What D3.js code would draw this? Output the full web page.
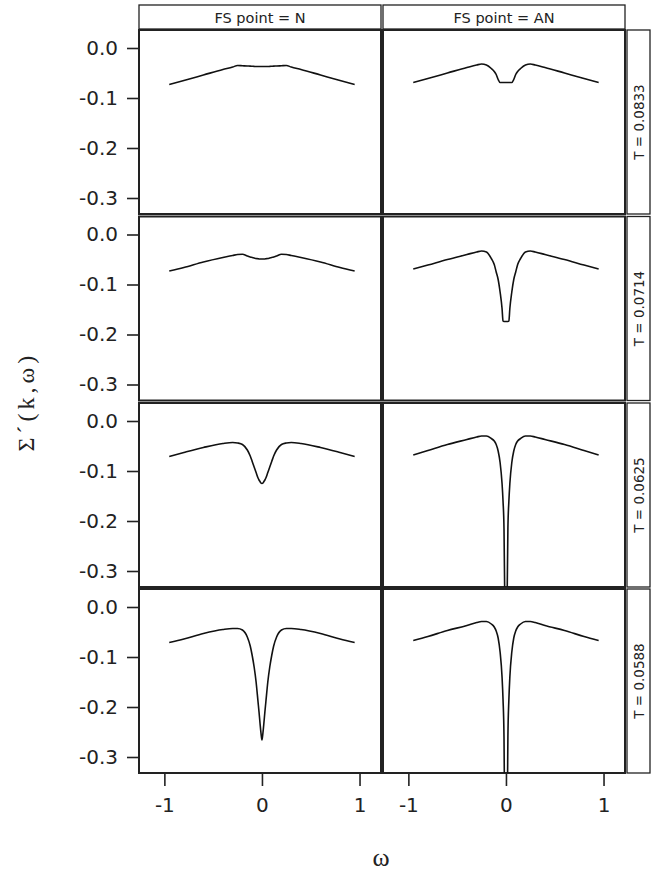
<!DOCTYPE html>
<html lang="en">
<head>
<meta charset="UTF-8">
<script src="https://d3js.org/d3.v7.min.js"></script>
<style>
  body { margin: 0; background: #fff; }
  svg { display: block; }
</style>
<title>Sigma prime panels</title>
</head>
<body>
<div id="chart"></div>
<script>
// frequency grid (omega) shared by all panels
const omega = [-0.95, -0.8, -0.6, -0.4, -0.3, -0.25, -0.2, -0.15, -0.12, -0.1, -0.08, -0.06, -0.04, -0.03, -0.02, -0.01,
  0, 0.01, 0.02, 0.03, 0.04, 0.06, 0.08, 0.1, 0.12, 0.15, 0.2, 0.25, 0.3, 0.4, 0.6, 0.8, 0.95];

const fsPoints = ["N", "AN"];
const temps = ["0.0833", "0.0714", "0.0625", "0.0588"];

// Sigma'(k, omega), one array per panel
const n0833 = [-0.073, -0.065, -0.054, -0.043, -0.038, -0.035, -0.0355, -0.036, -0.0362, -0.0365, -0.0368, -0.037, -0.037, -0.037, -0.037, -0.037,
  -0.037, -0.037, -0.037, -0.037, -0.037, -0.037, -0.0368, -0.0365, -0.0362, -0.036, -0.0355, -0.035, -0.038, -0.043, -0.054, -0.065, -0.073];
const an0833 = [-0.069, -0.061, -0.050, -0.039, -0.034, -0.032, -0.034, -0.041, -0.047, -0.053, -0.063, -0.069, -0.069, -0.069, -0.069, -0.069,
  -0.069, -0.069, -0.069, -0.069, -0.069, -0.069, -0.063, -0.053, -0.047, -0.041, -0.034, -0.032, -0.034, -0.039, -0.050, -0.061, -0.069];

const n0714 = [-0.073, -0.066, -0.055, -0.046, -0.042, -0.040, -0.0395, -0.043, -0.045, -0.046, -0.047, -0.048, -0.0485, -0.049, -0.049, -0.049,
  -0.049, -0.049, -0.049, -0.049, -0.0485, -0.048, -0.047, -0.046, -0.045, -0.043, -0.0395, -0.040, -0.042, -0.046, -0.055, -0.066, -0.073];
const an0714 = [-0.069, -0.061, -0.050, -0.040, -0.035, -0.033, -0.035, -0.048, -0.060, -0.075, -0.090, -0.115, -0.148, -0.173, -0.174, -0.174,
  -0.174, -0.174, -0.174, -0.173, -0.148, -0.115, -0.090, -0.075, -0.060, -0.048, -0.035, -0.033, -0.035, -0.040, -0.050, -0.061, -0.069];

const n0625 = [-0.071, -0.063, -0.053, -0.045, -0.043, -0.044, -0.047, -0.058, -0.070, -0.081, -0.092, -0.103, -0.114, -0.118, -0.121, -0.124,
  -0.125, -0.124, -0.121, -0.118, -0.114, -0.103, -0.092, -0.081, -0.070, -0.058, -0.047, -0.044, -0.043, -0.045, -0.053, -0.063, -0.071];
const an0625 = [-0.068, -0.059, -0.047, -0.037, -0.032, -0.030, -0.030, -0.035, -0.040, -0.047, -0.060, -0.083, -0.125, -0.160, -0.215, -0.40,
  -0.60, -0.40, -0.215, -0.160, -0.125, -0.083, -0.060, -0.047, -0.040, -0.035, -0.030, -0.030, -0.032, -0.037, -0.047, -0.059, -0.068];

const n0588 = [-0.071, -0.064, -0.053, -0.045, -0.043, -0.043, -0.046, -0.060, -0.078, -0.097, -0.120, -0.150, -0.190, -0.210, -0.232, -0.252,
  -0.266, -0.252, -0.232, -0.210, -0.190, -0.150, -0.120, -0.097, -0.078, -0.060, -0.046, -0.043, -0.043, -0.045, -0.053, -0.064, -0.071];
const an0588 = [-0.067, -0.059, -0.047, -0.037, -0.031, -0.029, -0.029, -0.034, -0.040, -0.048, -0.062, -0.090, -0.140, -0.185, -0.26, -0.50,
  -0.80, -0.50, -0.26, -0.185, -0.140, -0.090, -0.062, -0.048, -0.040, -0.034, -0.029, -0.029, -0.031, -0.037, -0.047, -0.059, -0.067];

const series = [[n0833, an0833], [n0714, an0714], [n0625, an0625], [n0588, an0588]];

const xTicks = [-1, 0, 1];
const yTicks = [0, -0.1, -0.2, -0.3];

// layout
const W = 657, H = 874;
const panelW = 242, panelH = 184;
const colX = [139, 383];
const rowY = [30, 216.5, 403, 589];
const stripTop = 5, stripH = 24;
const tStripX = 627, tStripW = 23;

const svg = d3.select("#chart").append("svg")
  .attr("width", W).attr("height", H);

const x = d3.scaleLinear([-1.26, 1.22], [0, panelW]);
const y = d3.scaleLinear([-0.332, 0.036], [panelH, 0]);

const line = d3.line()
  .x((d, i) => x(omega[i]))
  .y(d => y(d))
  .curve(d3.curveMonotoneX);

const defs = svg.append("defs");
defs.append("clipPath").attr("id", "panelclip")
  .append("rect").attr("width", panelW).attr("height", panelH);

const numFont = "DejaVu Sans, sans-serif";

// strips on top
fsPoints.forEach((fs, c) => {
  const g = svg.append("g").attr("transform", "translate(" + colX[c] + "," + stripTop + ")");
  g.append("rect").attr("width", panelW).attr("height", stripH)
    .attr("fill", "#fff").attr("stroke", "#222").attr("stroke-width", 1.3);
  g.append("text").attr("x", panelW / 2).attr("y", stripH / 2 + 5.5)
    .attr("text-anchor", "middle").attr("font-family", numFont).attr("font-size", 14.5)
    .attr("fill", "#222").text("FS point = " + fs);
});

temps.forEach((t, r) => {
  // right strip
  const s = svg.append("g").attr("transform", "translate(" + tStripX + "," + rowY[r] + ")");
  s.append("rect").attr("width", tStripW).attr("height", panelH)
    .attr("fill", "#fff").attr("stroke", "#222").attr("stroke-width", 1.3);
  s.append("text")
    .attr("transform", "translate(" + (tStripW / 2 + 5) + "," + (panelH / 2) + ") rotate(-90)")
    .attr("text-anchor", "middle").attr("font-family", numFont).attr("font-size", 13.5)
    .attr("fill", "#222").text("T = " + t);

  fsPoints.forEach((fs, c) => {
    const g = svg.append("g").attr("transform", "translate(" + colX[c] + "," + rowY[r] + ")");
    g.append("rect").attr("width", panelW).attr("height", panelH)
      .attr("fill", "#fff").attr("stroke", "#222").attr("stroke-width", 2);
    g.append("path")
      .datum(series[r][c])
      .attr("clip-path", "url(#panelclip)")
      .attr("fill", "none").attr("stroke", "#111").attr("stroke-width", 1.6)
      .attr("d", line);
  });

  // y axis on the left column
  const ya = svg.append("g")
    .attr("transform", "translate(" + (colX[0] - 1) + "," + rowY[r] + ")")
    .call(d3.axisLeft(y).tickValues(yTicks).tickFormat(d3.format(".1f")).tickSize(11).tickPadding(9));
  ya.select(".domain").remove();
  ya.selectAll("line").attr("stroke", "#222").attr("stroke-width", 1.6);
  ya.selectAll("text").attr("font-family", numFont).attr("font-size", 20).attr("fill", "#222")
    .text(d => d3.format(".1f")(d).replace("−", "-"));
});

// x axes under the bottom row
colX.forEach(cx => {
  const xa = svg.append("g")
    .attr("transform", "translate(" + cx + "," + (rowY[3] + panelH + 1) + ")")
    .call(d3.axisBottom(x).tickValues(xTicks).tickFormat(d3.format("d")).tickSize(12).tickPadding(12));
  xa.select(".domain").remove();
  xa.selectAll("line").attr("stroke", "#222").attr("stroke-width", 1.6);
  xa.selectAll("text").attr("font-family", numFont).attr("font-size", 20).attr("fill", "#222")
    .text(d => String(d));
});

// axis titles
svg.append("text")
  .attr("transform", "translate(34," + (rowY[0] + (rowY[3] + panelH - rowY[0]) / 2) + ") rotate(-90)")
  .attr("text-anchor", "middle").attr("font-family", "Liberation Serif, serif").attr("font-size", 24)
  .attr("letter-spacing", 4)
  .attr("fill", "#222").text("Σ´(k,ω)");

svg.append("text")
  .attr("x", 381).attr("y", 866)
  .attr("text-anchor", "middle").attr("font-family", "Liberation Serif, serif").attr("font-size", 26)
  .attr("fill", "#222").text("ω");
</script>
</body>
</html>
